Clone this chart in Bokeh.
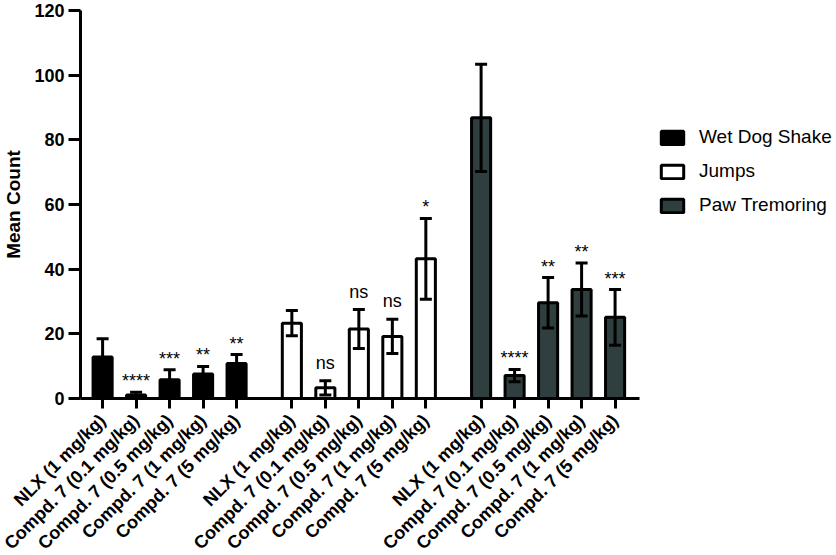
import math

from bokeh.core.properties import value
from bokeh.embed import file_html
from bokeh.models import (ColumnDataSource, FixedTicker, Legend, LegendItem,
                          Range1d, TeeHead, Whisker)
from bokeh.plotting import figure
from bokeh.resources import INLINE

# Treatment groups (repeated within each behaviour block)
doses = ["NLX (1 mg/kg)", "Compd. 7 (0.1 mg/kg)", "Compd. 7 (0.5 mg/kg)",
         "Compd. 7 (1 mg/kg)", "Compd. 7 (5 mg/kg)"]
behaviours = ["Wet Dog Shake", "Jumps", "Paw Tremoring"]

# Mean counts and error (SEM) per behaviour
wet_dog_mean = [12.8, 1.1, 5.8, 7.6, 10.8]
wet_dog_err = [5.7, 0.8, 3.1, 2.3, 2.8]
jumps_mean = [23.3, 3.3, 21.5, 19.2, 43.2]
jumps_err = [3.9, 2.2, 6.0, 5.3, 12.5]
paw_mean = [86.8, 7.1, 29.6, 33.7, 25.1]
paw_err = [16.6, 1.9, 7.8, 8.2, 8.6]

# Significance versus NLX
wet_dog_sig = ["", "****", "***", "**", "**"]
jumps_sig = ["", "ns", "ns", "ns", "*"]
paw_sig = ["", "****", "**", "**", "***"]

y_ticks = [0, 20, 40, 60, 80, 100, 120]

means = [wet_dog_mean, jumps_mean, paw_mean]
errs = [wet_dog_err, jumps_err, paw_err]
sigs = [wet_dog_sig, jumps_sig, paw_sig]
fills = ["black", "white", "#2f3e3e"]

FONT = "Liberation Sans"
group_gap = 0.65
n = len(doses)

p = figure(frame_width=757, frame_height=388,
           x_range=Range1d(-0.66, 21.94), y_range=Range1d(0, 120),
           output_backend="svg", toolbar_location=None,
           min_border_left=79, min_border_right=0,
           min_border_top=10, min_border_bottom=150)
p.xgrid.visible = False
p.ygrid.visible = False
p.outline_line_color = None

tick_pos = []
tick_text = []
legend_items = []
for g, name in enumerate(behaviours):
    xs = [g * (n + group_gap) + i for i in range(n)]
    tick_pos += xs
    tick_text += doses
    m, e, s = means[g], errs[g], sigs[g]
    src = ColumnDataSource(dict(
        x=xs, top=m,
        upper=[a + b for a, b in zip(m, e)],
        lower=[a - b for a, b in zip(m, e)],
        sig=s,
        yoff=[-8 if t == "ns" else -1 for t in s],
    ))
    r = p.vbar(x="x", top="top", width=0.57, bottom=0, source=src,
               fill_color=fills[g], line_color="black", line_width=3)
    legend_items.append(LegendItem(label=name, renderers=[r]))
    w = Whisker(source=src, base="x", upper="upper", lower="lower",
                line_color="black", line_width=3, level="annotation",
                upper_head=TeeHead(size=12, line_width=3, line_color="black"),
                lower_head=TeeHead(size=12, line_width=3, line_color="black"))
    p.add_layout(w)
    p.text(x="x", y="upper", text="sig", source=src, y_offset="yoff",
           text_align="center", text_baseline="bottom",
           text_font=value(FONT), text_font_size="18px", text_color="black")

# y axis
ya = p.yaxis[0]
ya.ticker = FixedTicker(ticks=y_ticks)
ya.axis_label = "Mean Count"
ya.axis_label_text_font = FONT
ya.axis_label_text_font_style = "bold"
ya.axis_label_text_font_size = "19px"
ya.axis_label_text_color = "black"
ya.axis_label_standoff = 7
ya.major_label_text_font = FONT
ya.major_label_text_font_style = "bold"
ya.major_label_text_font_size = "18px"
ya.major_label_text_color = "black"
ya.major_label_standoff = 4
ya.axis_line_width = 3
ya.axis_line_color = "black"
ya.major_tick_line_width = 3
ya.major_tick_line_color = "black"
ya.major_tick_out = 12
ya.major_tick_in = 0
ya.minor_tick_line_color = None

# x axis
xa = p.xaxis[0]
xa.ticker = FixedTicker(ticks=tick_pos)
xa.major_label_overrides = {t: lab for t, lab in zip(tick_pos, tick_text)}
xa.major_label_orientation = math.pi / 4
xa.major_label_text_font = FONT
xa.major_label_text_font_style = "bold"
xa.major_label_text_font_size = "18px"
xa.major_label_text_color = "black"
xa.major_label_standoff = 9
xa.bounds = (-0.66, 16.03)
xa.axis_line_width = 3
xa.axis_line_color = "black"
xa.major_tick_line_width = 3
xa.major_tick_line_color = "black"
xa.major_tick_out = 10
xa.major_tick_in = 0
xa.minor_tick_line_color = None

legend = Legend(items=legend_items, location=(578, 182),
                glyph_width=28, glyph_height=17, label_standoff=13,
                spacing=12, padding=0, margin=0,
                border_line_color=None, background_fill_alpha=0,
                label_text_font=FONT, label_text_font_size="19px",
                label_text_color="black", label_height=20)
p.add_layout(legend)

open("out.html", "w").write(file_html(p, INLINE))
